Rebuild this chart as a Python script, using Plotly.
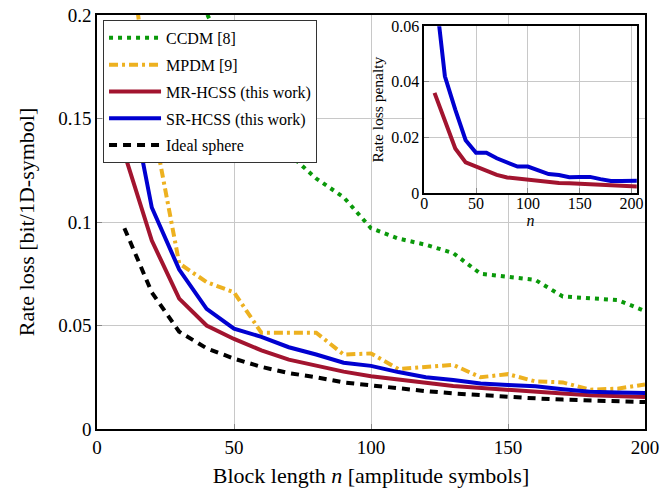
import plotly.graph_objects as go

# block lengths
n = [10, 20, 30, 40, 50, 60, 70, 80, 90, 100,
     110, 120, 130, 140, 150, 160, 170, 180, 190, 200]

ccdm = [0.40, 0.30, 0.245, 0.201, 0.172, 0.150, 0.133, 0.121, 0.112, 0.097,
        0.092, 0.089, 0.085, 0.075, 0.0735, 0.072, 0.064, 0.063, 0.0623, 0.057]
mpdm = [0.25, 0.15, 0.080, 0.071, 0.066, 0.0465, 0.0465, 0.0465, 0.036, 0.0365,
        0.029, 0.030, 0.031, 0.025, 0.0265, 0.023, 0.0225, 0.019, 0.0195, 0.0215]
mr_hcss = [0.133, 0.091, 0.063, 0.050, 0.0435, 0.038, 0.0335, 0.0306, 0.0277, 0.0255,
           0.0237, 0.0223, 0.0208, 0.0198, 0.0188, 0.0179, 0.0171, 0.0163, 0.0158, 0.0154]
sr_hcss = [0.175, 0.107, 0.077, 0.058, 0.0485, 0.0445, 0.0395, 0.036, 0.032, 0.0305,
           0.0275, 0.025, 0.0237, 0.022, 0.0213, 0.0206, 0.0192, 0.018, 0.0176, 0.0174]
ideal = [0.097, 0.066, 0.047, 0.039, 0.034, 0.030, 0.027, 0.025, 0.0225, 0.021,
         0.0195, 0.0183, 0.0172, 0.0163, 0.0155, 0.0148, 0.0142, 0.0137, 0.0133, 0.013]

# inset: penalty w.r.t. ideal sphere
n_inset = n + [210]
pen_mr = [0.036, 0.026, 0.016, 0.011, 0.0095, 0.0082, 0.0065, 0.0056, 0.0052, 0.0045,
          0.0042, 0.0040, 0.0036, 0.0035, 0.0033, 0.0031, 0.0029, 0.0026, 0.0025, 0.0024, 0.0023]
pen_sr = [0.075, 0.042, 0.030, 0.019, 0.0145, 0.0145, 0.0125, 0.011, 0.0095, 0.0095,
          0.008, 0.0068, 0.0065, 0.0057, 0.0058, 0.0058, 0.005, 0.0043, 0.0043, 0.0044, 0.0044]

GREEN = '#0a990a'
ORANGE = '#edb120'
RED = '#a2142f'
BLUE = '#0000d0'
FONT = '"Liberation Serif", "Times New Roman", "DejaVu Serif", serif'

fig = go.Figure()
fig.add_trace(go.Scatter(x=n, y=ccdm, mode='lines', name='CCDM [8]', legendgroup='a',
                         line=dict(color=GREEN, width=4, dash='4px,5px')))
fig.add_trace(go.Scatter(x=n, y=mpdm, mode='lines', name='MPDM [9]', legendgroup='b',
                         line=dict(color=ORANGE, width=4, dash='9px,4px,3px,4px')))
fig.add_trace(go.Scatter(x=n, y=mr_hcss, mode='lines', name='MR-HCSS (this work)',
                         legendgroup='c', line=dict(color=RED, width=4)))
fig.add_trace(go.Scatter(x=n, y=sr_hcss, mode='lines', name='SR-HCSS (this work)',
                         legendgroup='d', line=dict(color=BLUE, width=4)))
fig.add_trace(go.Scatter(x=n, y=ideal, mode='lines', name='Ideal sphere', legendgroup='e',
                         line=dict(color='black', width=4, dash='8px,6px')))

fig.add_trace(go.Scatter(x=n_inset, y=pen_mr, mode='lines', showlegend=False,
                         xaxis='x2', yaxis='y2', line=dict(color=RED, width=4)))
fig.add_trace(go.Scatter(x=n_inset, y=pen_sr, mode='lines', showlegend=False,
                         xaxis='x2', yaxis='y2', line=dict(color=BLUE, width=4)))

# white patch behind the inset, drawn in the inset's own layer
fig.add_shape(type='rect', xref='x2 domain', yref='y2 domain',
              x0=-0.27, x1=1.03, y0=-0.2, y1=1.06, layer='below',
              fillcolor='white', line=dict(width=0))

axis_common = dict(showline=True, linecolor='black', linewidth=1.5, mirror=True,
                   showgrid=True, gridcolor='#c8c8c8', gridwidth=1, automargin=False,
                   ticks='inside', tickcolor='#888', ticklen=5, zeroline=False)

fig.update_layout(
    width=663, height=488,
    margin=dict(l=97, r=18, t=15, b=59),
    paper_bgcolor='white', plot_bgcolor='white',
    font=dict(family=FONT, size=18, color='black'),
    xaxis=dict(range=[0, 200], tickvals=[0, 50, 100, 150, 200], tickfont=dict(size=19),
               title=dict(text='Block length <i>n</i> [amplitude symbols]', standoff=12),
               **axis_common),
    yaxis=dict(range=[0, 0.2], tickvals=[0, 0.05, 0.1, 0.15, 0.2],
               ticktext=['0', '0.05', '0.1', '0.15', '0.2'], tickfont=dict(size=19),
               title=dict(text='Rate loss [bit/1D-symbol]', standoff=18),
               **axis_common),
    xaxis2=dict(domain=[0.597, 0.985], anchor='y2', range=[0, 205],
                tickvals=[0, 50, 100, 150, 200], tickfont=dict(size=16),
                ticklabelstandoff=-5,
                title=dict(text='<i>n</i>', font=dict(size=16), standoff=0),
                **axis_common),
    yaxis2=dict(domain=[0.570, 0.973], anchor='x2', range=[0, 0.06],
                tickvals=[0, 0.02, 0.04, 0.06], ticktext=['0', '0.02', '0.04', '0.06'],
                tickfont=dict(size=16),
                title=dict(text='Rate loss penalty', font=dict(size=15.5), standoff=4),
                **axis_common),
    legend=dict(x=0.011, y=0.988, xanchor='left', yanchor='top',
                bgcolor='white', bordercolor='#333', borderwidth=1, itemwidth=52,
                font=dict(family=FONT, size=16), tracegroupgap=3),
)

fig.write_html('out.html', config={'displayModeBar': False},
               post_script="document.body.style.margin='0';")
